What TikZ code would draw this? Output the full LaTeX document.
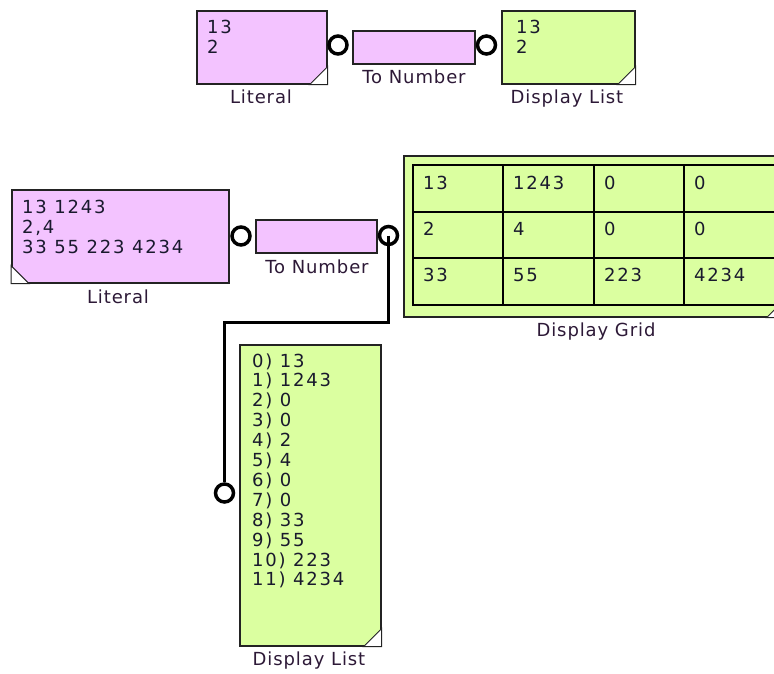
\documentclass[tikz,border=0pt]{standalone}
\usepackage{fontspec}
\setmainfont{DejaVu Sans}
\newfontfamily\contentfont[LetterSpace=10]{DejaVu Sans}
\newfontfamily\labelfont[LetterSpace=5]{DejaVu Sans}
\definecolor{litpink}{RGB}{243,195,255}
\definecolor{dispgreen}{RGB}{219,255,160}
\definecolor{boxline}{RGB}{35,35,35}
\definecolor{txt}{RGB}{25,25,45}
\definecolor{lbltxt}{RGB}{45,25,55}
\begin{document}
\begin{tikzpicture}[x=1pt,y=-1pt,
  blockbox/.style={draw=boxline, line width=1.6pt, inner sep=0pt, anchor=north west},
  port/.style={circle, draw=black, fill=white, line width=3.5pt, minimum size=18pt, inner sep=0pt},
  wire/.style={draw=black, line width=3pt},
  lbl/.style={font=\labelfont\fontsize{18}{20}\selectfont, text=lbltxt, inner sep=0pt, anchor=base},
  val/.style={font=\contentfont\fontsize{18}{20}\selectfont, text=txt, inner sep=0pt, anchor=base west},
  corner/.style={fill=white, draw=boxline, line width=1pt},
  gridline/.style={draw=black, line width=2pt}
]
\useasboundingbox (0,0) rectangle (774,673);
\clip (0,0) rectangle (774,673);
\fill[white] (0,0) rectangle (774,673);

% ---------- top row ----------
\node[blockbox, fill=litpink, minimum width=130pt, minimum height=73pt] (lit1) at (196,10) {};
\filldraw[corner] (lit1.south east) ++(-18,0) -- ++(18,-18) -- (lit1.south east) -- cycle;
\node[val] (lit1a) at (207,33.5) {13};
\node[val] (lit1b) at (207,53.5) {2};
\node[lbl] (lit1l) at (261,103) {Literal};

\node[port] (c1) at (338,45) {};

\node[blockbox, fill=litpink, minimum width=122pt, minimum height=33pt] (tn1) at (352,30) {};
\node[lbl] (tn1l) at (414,83) {To Number};

\node[port] (c2) at (486.5,45) {};

\node[blockbox, fill=dispgreen, minimum width=133pt, minimum height=73pt] (dl1) at (501,10) {};
\filldraw[corner] (dl1.south east) ++(-18,0) -- ++(18,-18) -- (dl1.south east) -- cycle;
\node[val] (dl1a) at (516,33.5) {13};
\node[val] (dl1b) at (516,53.5) {2};
\node[lbl] (dl1l) at (567,103) {Display List};

% ---------- second row ----------
\node[blockbox, fill=litpink, minimum width=217pt, minimum height=93pt] (lit2) at (11,189) {};
\filldraw[corner] (lit2.south west) ++(18,0) -- ++(-18,-18) -- (lit2.south west) -- cycle;
\node[val] (lit2a) at (22,213.3) {13 1243};
\node[val] (lit2b) at (22,233.3) {2,4};
\node[val] (lit2c) at (22,253.3) {33 55 223 4234};
\node[lbl] (lit2l) at (118,303) {Literal};

\node[port] (c3) at (241,236) {};

\node[blockbox, fill=litpink, minimum width=121pt, minimum height=33pt] (tn2) at (255,219) {};
\node[lbl] (tn2l) at (317,273) {To Number};

\node[port] (c4) at (388.5,235.5) {};

% Display Grid
\node[blockbox, fill=dispgreen, minimum width=381pt, minimum height=161pt] (grid) at (403,155) {};
\filldraw[corner] (grid.south east) ++(-19,0) -- ++(19,-19) -- (grid.south east) -- cycle;
\draw[gridline] (413,165) rectangle (776,305);
\draw[gridline] (413,212) -- (776,212);
\draw[gridline] (413,258) -- (776,258);
\draw[gridline] (503,165) -- (503,305);
\draw[gridline] (594,165) -- (594,305);
\draw[gridline] (684,165) -- (684,305);
\node[val] (g11) at (423,189) {13};
\node[val] (g12) at (513,189) {1243};
\node[val] (g13) at (604,189) {0};
\node[val] (g14) at (694,189) {0};
\node[val] (g21) at (423,235) {2};
\node[val] (g22) at (513,235) {4};
\node[val] (g23) at (604,235) {0};
\node[val] (g24) at (694,235) {0};
\node[val] (g31) at (423,281) {33};
\node[val] (g32) at (513,281) {55};
\node[val] (g33) at (604,281) {223};
\node[val] (g34) at (694,281) {4234};
\node[lbl] (gridl) at (596,336) {Display Grid};

% Display List 2
\node[blockbox, fill=dispgreen, minimum width=141pt, minimum height=301pt] (dl2) at (239,344) {};
\filldraw[corner] (dl2.south east) ++(-18,0) -- ++(18,-18) -- (dl2.south east) -- cycle;
\foreach \i/\v in {0/13,1/1243,2/0,3/0,4/2,5/4,6/0,7/0,8/33,9/55,10/223,11/4234}{
  \node[val] (dl2r\i) at (252,367+19.9*\i) {\i) \v};
}
\node[lbl] (dl2l) at (309,665) {Display List};

\node[port] (c5) at (224.5,493) {};

% wire
\coordinate (k1) at (388.5,322);
\coordinate (k2) at (224.5,322);
\draw[wire] (c4.center) -- (k1) -- (k2) -- (c5.north);
\end{tikzpicture}
\end{document}
